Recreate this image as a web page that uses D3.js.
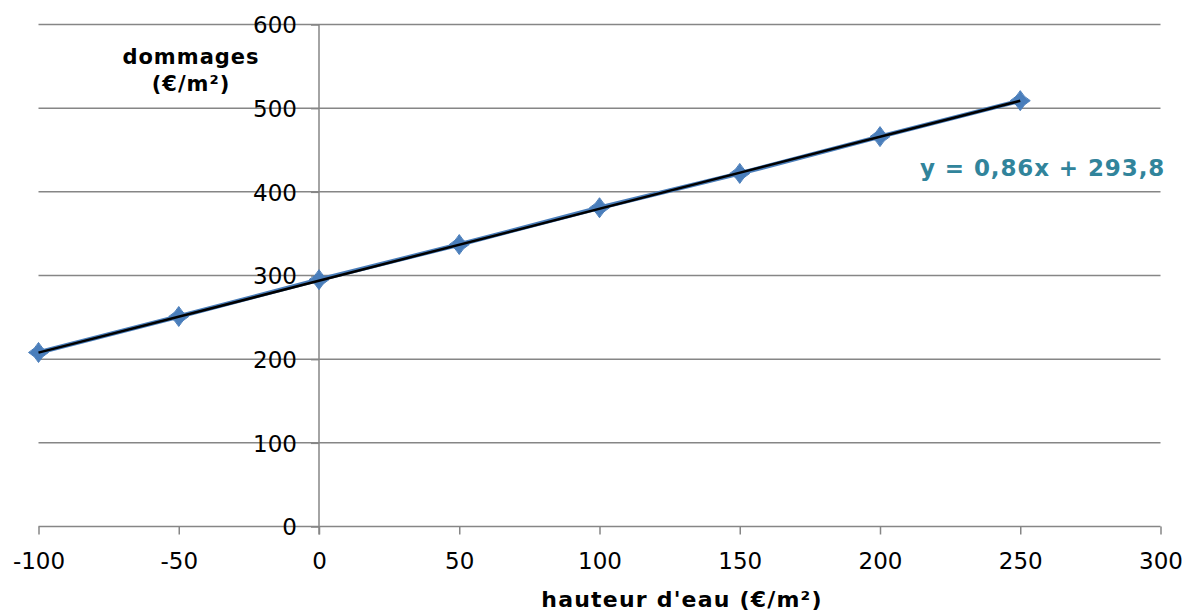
<!DOCTYPE html>
<html><head><meta charset="utf-8">
<script src="https://cdn.jsdelivr.net/npm/d3@7"></script>
<style>body{margin:0;background:#fff}svg{display:block}text{font-family:"DejaVu Sans",Verdana,sans-serif}</style>
</head><body>
<svg id="c" width="1190" height="614"></svg>
<script>
const xValues = [-100, -50, 0, 50, 100, 150, 200, 250];
const yValues = [208, 251, 295, 337, 381, 422, 466, 509];
const xTicks = [-100, -50, 0, 50, 100, 150, 200, 250, 300];
const yTicks = [0, 100, 200, 300, 400, 500, 600];
const trendSlope = 0.86, trendIntercept = 293.8;
const trendLabel = "y = 0,86x + 293,8";
const xTitle = "hauteur d'eau (€/m²)";
const yTitle = ["dommages", "(€/m²)"];

const svg = d3.select("#c");
const x = d3.scaleLinear().domain([-100, 300]).range([38.5, 1160.5]);
const y = d3.scaleLinear().domain([0, 600]).range([526.5, 24.5]);
const grey = "#868686";

// gridlines
svg.append("g").selectAll("line").data(yTicks.filter(d => d > 0)).join("line")
  .attr("x1", x(-100)).attr("x2", x(300)).attr("y1", d => y(d)).attr("y2", d => y(d))
  .attr("stroke", grey).attr("stroke-width", 1.5);

// x axis
const xAxis = d3.axisBottom(x).tickValues(xTicks).tickSize(8).tickPadding(18).tickFormat(d3.format("d"));
const gx = svg.append("g").attr("transform", `translate(0,${y(0)})`).call(xAxis);
gx.select(".domain").attr("stroke", grey).attr("stroke-width", 1.5).attr("d", `M${x(-100)},0H${x(300)}`);
gx.selectAll(".tick line").attr("stroke", grey).attr("stroke-width", 1.5);
gx.selectAll(".tick text").attr("font-size", 23).attr("fill", "#000").attr("font-family", "DejaVu Sans")
  .text(d => String(d));

// y axis at x=0
const yAxis = d3.axisLeft(y).tickValues(yTicks).tickSize(8).tickPadding(0).tickFormat(d3.format("d"));
const gy = svg.append("g").attr("transform", `translate(${x(0)},0)`).call(yAxis);
gy.select(".domain").attr("stroke", grey).attr("stroke-width", 1.5).attr("d", `M0,${y(600)}V${y(0) + 8}`);
gy.selectAll(".tick line").attr("stroke", grey).attr("stroke-width", 1.5);
gy.selectAll(".tick text").attr("font-size", 23).attr("fill", "#000").attr("font-family", "DejaVu Sans")
  .attr("text-anchor", "end").attr("x", -22).attr("dy", "0.36em");

// series line
const pts = xValues.map((v, i) => [v, yValues[i]]);
svg.append("path").datum(pts)
  .attr("d", d3.line().x(d => x(d[0])).y(d => y(d[1])))
  .attr("fill", "none").attr("stroke", "#4A7EBB").attr("stroke-width", 4.5);

// markers (slightly concave diamond)
const r = 10;
const marker = `M0,${-r}Q3.5,-3.5 ${r},0Q3.5,3.5 0,${r}Q-3.5,3.5 ${-r},0Q-3.5,-3.5 0,${-r}Z`;
svg.append("g").selectAll("path").data(pts).join("path")
  .attr("transform", d => `translate(${x(d[0])},${y(d[1])})`)
  .attr("d", marker).attr("fill", "#4A7EBB").attr("stroke", "#4A7EBB").attr("stroke-width", 1);

// trend line
const tx = [xValues[0], xValues[xValues.length - 1]];
svg.append("line")
  .attr("x1", x(tx[0])).attr("y1", y(trendSlope * tx[0] + trendIntercept))
  .attr("x2", x(tx[1])).attr("y2", y(trendSlope * tx[1] + trendIntercept))
  .attr("stroke", "#000").attr("stroke-width", 2.5);

// trend label
svg.append("text").attr("x", 920).attr("y", 176).attr("text-anchor", "start")
  .attr("font-size", 23).attr("font-weight", "bold").attr("letter-spacing", 0.9)
  .attr("fill", "#31849B").text(trendLabel);

// titles
svg.append("text").attr("x", 682).attr("y", 607).attr("text-anchor", "middle")
  .attr("font-size", 22).attr("font-weight", "bold").attr("letter-spacing", 1.2).text(xTitle);
svg.append("text").attr("text-anchor", "middle").attr("font-size", 21).attr("font-weight", "bold")
  .attr("letter-spacing", 1)
  .selectAll("tspan").data(yTitle).join("tspan")
  .attr("x", 191).attr("y", (d, i) => 64 + i * 27).text(d => d);
</script>
</body></html>
